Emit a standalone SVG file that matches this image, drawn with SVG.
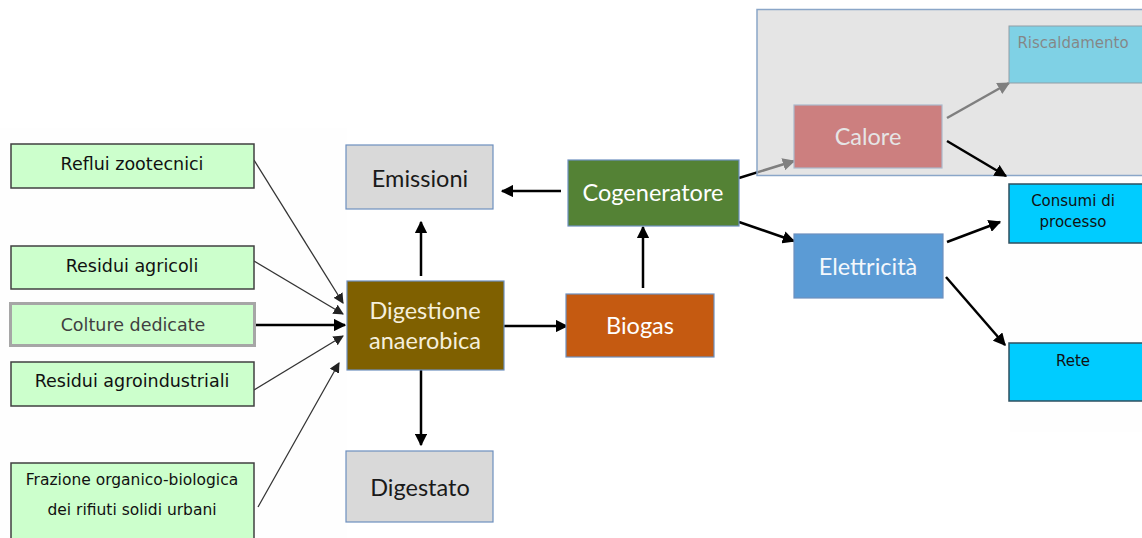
<svg xmlns="http://www.w3.org/2000/svg" width="1142" height="538" viewBox="0 0 1142 538">
<defs>
<marker id="ah" viewBox="0 0 10 10" refX="9" refY="5" markerWidth="5" markerHeight="5" orient="auto" markerUnits="strokeWidth"><path d="M0,0 L10,5 L0,10 z" fill="#000"/></marker>
<marker id="ahg" viewBox="0 0 10 10" refX="9" refY="5" markerWidth="8" markerHeight="8" orient="auto" markerUnits="strokeWidth"><path d="M0,0 L10,5 L0,10 z" fill="#222"/></marker>
</defs>
<style>
.src{fill:#ccffcc;stroke:#404040;stroke-width:1.5}
.st{font-family:"DejaVu Sans",Verdana,sans-serif;font-size:17.5px;fill:#111;text-anchor:middle}
.sm{font-family:"DejaVu Sans",Verdana,sans-serif;font-size:15.5px;fill:#111;text-anchor:middle}
.so{font-family:"DejaVu Sans",Verdana,sans-serif;font-size:15px;fill:#111;text-anchor:middle}
.mid{stroke:#6d8fbf;stroke-width:1.2}
.lt{font-family:Lato,"Open Sans",sans-serif;font-size:23.5px;text-anchor:middle}
.out{fill:#00ccff;stroke:#2f4f5f;stroke-width:1.5}
.c{fill:none;stroke:#000;stroke-width:2.5}
.cg{fill:none;stroke:#333;stroke-width:1.3}
</style>
<rect x="0" y="0" width="1142" height="538" fill="#fff"/>
<rect x="0" y="128" width="347" height="410" fill="#fefefe"/>
<rect x="1010" y="40" width="132" height="392" fill="#fefefe"/>

<g id="connectors-left">
<line class="cg" x1="254" y1="160" x2="343" y2="303" marker-end="url(#ahg)"/>
<line class="cg" x1="254" y1="261" x2="343" y2="314" marker-end="url(#ahg)"/>
<line class="c" x1="256" y1="325" x2="345" y2="325" stroke-width="2.2" marker-end="url(#ah)"/>
<line class="cg" x1="254" y1="390" x2="343" y2="336" marker-end="url(#ahg)"/>
<line class="cg" x1="258" y1="507" x2="339" y2="363" marker-end="url(#ahg)"/>
</g>

<g id="n-reflui"><rect class="src" x="11" y="144" width="243" height="44"/><text class="st" x="132" y="170">Reflui zootecnici</text></g>
<g id="n-residui-agricoli"><rect class="src" x="11" y="246" width="243" height="43"/><text class="st" x="132" y="272">Residui agricoli</text></g>
<g id="n-colture"><rect x="10.5" y="303.5" width="244" height="42" fill="#ccffcc" stroke="#a6a6a6" stroke-width="3"/><text class="st" x="133" y="331" style="fill:#404040">Colture dedicate</text></g>
<g id="n-residui-agroind"><rect class="src" x="11" y="362" width="243" height="44"/><text class="st" x="132" y="387">Residui agroindustriali</text></g>
<g id="n-frazione"><rect class="src" x="11" y="463" width="243" height="76"/><text class="sm" x="132" y="485">Frazione organico-biologica</text><text class="sm" x="132" y="515">dei rifiuti solidi urbani</text></g>

<g id="connectors-mid">
<line class="c" x1="561" y1="191" x2="502" y2="191" marker-end="url(#ah)"/>
<line class="c" x1="421" y1="276" x2="421" y2="222" marker-end="url(#ah)"/>
<line class="c" x1="504" y1="326" x2="567" y2="326" marker-end="url(#ah)"/>
<line class="c" x1="643" y1="288" x2="643" y2="227" marker-end="url(#ah)"/>
<line class="c" x1="421" y1="370" x2="421" y2="445" marker-end="url(#ah)"/>
<line class="c" x1="739" y1="222" x2="794" y2="241" marker-end="url(#ah)"/>
<line class="c" x1="739" y1="178" x2="794" y2="161" marker-end="url(#ah)"/>
<line class="c" x1="947" y1="118" x2="1009" y2="83" marker-end="url(#ah)"/>
</g>

<g id="n-emissioni"><rect class="mid" x="346" y="145" width="147" height="64" fill="#d9d9d9"/><text class="lt" x="420" y="187" fill="#1a1a1a">Emissioni</text></g>
<g id="n-cogeneratore"><rect class="mid" x="568" y="160" width="171" height="66" fill="#548235"/><text class="lt" x="653" y="201" fill="#fff">Cogeneratore</text></g>
<g id="n-digestione"><rect class="mid" x="347" y="281" width="157" height="89" fill="#7f6000"/><text class="lt" x="425" y="319" fill="#f5efdc">Digestione</text><text class="lt" x="425" y="349" fill="#f5efdc">anaerobica</text></g>
<g id="n-biogas"><rect class="mid" x="566" y="294" width="148" height="63" fill="#c55a11"/><text class="lt" x="640" y="334" fill="#fff">Biogas</text></g>
<g id="n-digestato"><rect class="mid" x="346" y="451" width="147" height="71" fill="#d9d9d9"/><text class="lt" x="420" y="496" fill="#1a1a1a">Digestato</text></g>

<g id="n-calore"><rect class="mid" x="794" y="105" width="148" height="63" fill="#c00000"/><text class="lt" x="868" y="145" fill="#fff">Calore</text></g>
<g id="n-riscaldamento"><rect x="1009" y="26" width="140" height="57" fill="#00ccff" stroke="#2f4f5f" stroke-width="1"/><text class="so" x="1073" y="48" fill="#000">Riscaldamento</text></g>

<g id="panel"><rect x="757" y="9.5" width="390" height="166" fill="rgb(212,212,212)" fill-opacity="0.6" stroke="#8aa6c8" stroke-width="1.5"/></g>

<g id="connectors-right">
<line class="c" x1="947" y1="141" x2="1006" y2="176" marker-end="url(#ah)"/>
<line class="c" x1="947" y1="242" x2="1000" y2="222" marker-end="url(#ah)"/>
<line class="c" x1="946" y1="277" x2="1005" y2="345" marker-end="url(#ah)"/>
</g>

<g id="n-elettricita"><rect class="mid" x="794" y="234" width="149" height="64" fill="#5b9bd5"/><text class="lt" x="868" y="275" fill="#f4f8fc">Elettricità</text></g>
<g id="n-consumi"><rect class="out" x="1009" y="184" width="140" height="59"/><text class="so" x="1073" y="206">Consumi di</text><text class="so" x="1073" y="227">processo</text></g>
<g id="n-rete"><rect class="out" x="1009" y="343" width="140" height="58"/><text class="so" x="1073" y="366">Rete</text></g>
</svg>
